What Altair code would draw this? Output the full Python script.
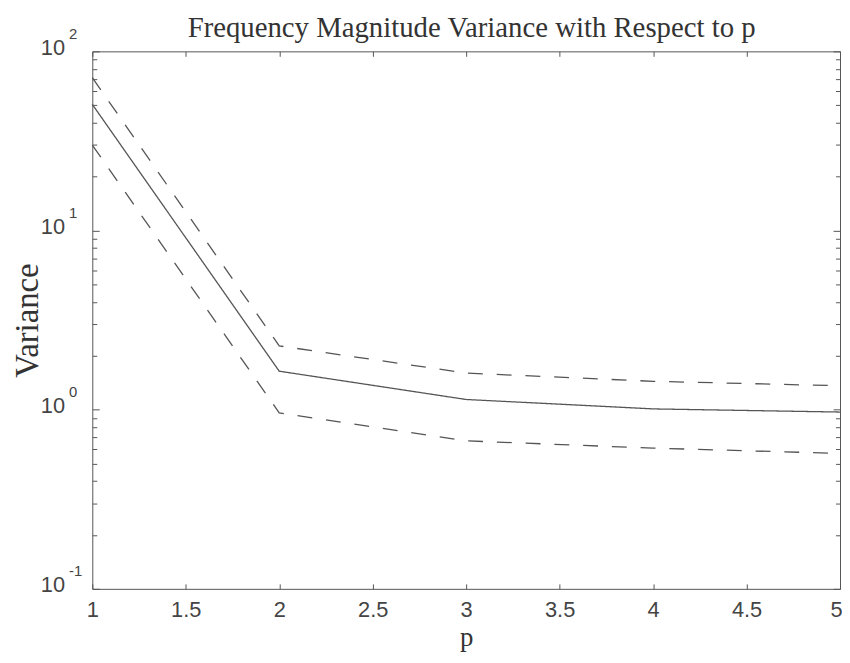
import altair as alt
import pandas as pd

# ---- data ----
p_values = [1, 2, 3, 4, 5]
mean_var = [50.6, 1.64, 1.14, 1.01, 0.97]
upper_var = [71.3, 2.27, 1.60, 1.44, 1.36]
lower_var = [30.0, 0.96, 0.67, 0.61, 0.57]

x_tick_values = [1, 1.5, 2, 2.5, 3, 3.5, 4, 4.5, 5]
y_label_values = [0.1, 1, 10, 100]
y_tick_values = [0.1, 0.2, 0.3, 0.4, 0.5, 0.6, 0.7, 0.8, 0.9,
                 1, 2, 3, 4, 5, 6, 7, 8, 9,
                 10, 20, 30, 40, 50, 60, 70, 80, 90, 100]
series_names = ["mean", "upper", "lower"]
chart_title = "Frequency Magnitude Variance with Respect to p"

rows = []
for name, vals in zip(series_names, [mean_var, upper_var, lower_var]):
    for p, v in zip(p_values, vals):
        rows.append({"p": p, "variance": v, "series": name})
df = pd.DataFrame(rows)

W, H = 754, 542
INK = "#555555"

x_scale = alt.Scale(domain=[1, 5], nice=False, zero=False)
y_scale = alt.Scale(type="log", domain=[0.1, 100], nice=False)

major_test = "abs(log(datum.value)/LN10 - round(log(datum.value)/LN10)) < 0.000001"
y_tick_size = {"condition": {"test": major_test, "value": 7}, "value": 4.5}
x_label_offset = {"condition": {"test": "datum.value == 5", "value": -4}, "value": 0}

exp_expr = ("datum.value >= 50 ? '2' : datum.value >= 5 ? '1' : "
            "datum.value >= 0.5 ? '0' : '-1'")

base = alt.Chart(df)

lines = base.mark_line(color=INK, strokeWidth=1.3).encode(
    x=alt.X("p:Q", scale=x_scale,
            axis=alt.Axis(orient="bottom", values=x_tick_values, format="~g",
                          ticks=False, tickSize=0, domain=False, grid=False,
                          labelPadding=11, labelFlush=False,
                          labelOffset=x_label_offset, title="p",
                          titleFont="Liberation Serif", titleFontSize=27,
                          titleFontWeight="normal", titleColor="#333333",
                          titleY=57, titleBaseline="alphabetic")),
    y=alt.Y("variance:Q", scale=y_scale,
            axis=alt.Axis(orient="left", values=y_label_values, labelExpr="'10'",
                          ticks=False, tickSize=0, domain=False, grid=False,
                          labelAlign="right", labelPadding=28, labelOffset=-4,
                          labelBaseline="middle",
                          title="Variance",
                          titleFont="Liberation Serif", titleFontSize=33,
                          titleFontWeight="normal", titleColor="#333333",
                          titleX=-55, titleBaseline="alphabetic")),
    detail="series:N",
    strokeDash=alt.StrokeDash("series:N",
                              scale=alt.Scale(domain=series_names,
                                              range=[[1, 0], [15, 14], [15, 14]]),
                              legend=None),
)

# inward ticks: bottom & left edges
ticks_a = base.mark_line(opacity=0).encode(
    x=alt.X("p:Q", scale=x_scale,
            axis=alt.Axis(orient="top", offset=-H, values=x_tick_values,
                          labels=False, domain=False, grid=False, tickSize=5,
                          title=None)),
    y=alt.Y("variance:Q", scale=y_scale,
            axis=alt.Axis(orient="right", offset=-W, values=y_tick_values,
                          labels=False, domain=False, grid=False,
                          tickSize=y_tick_size, title=None)),
    detail="series:N",
)

# inward ticks: top & right edges
ticks_b = base.mark_line(opacity=0).encode(
    x=alt.X("p:Q", scale=x_scale,
            axis=alt.Axis(orient="bottom", offset=-H, values=x_tick_values,
                          labels=False, domain=False, grid=False, tickSize=5,
                          title=None)),
    y=alt.Y("variance:Q", scale=y_scale,
            axis=alt.Axis(orient="left", offset=-W, values=y_tick_values,
                          labels=False, domain=False, grid=False,
                          tickSize=y_tick_size, title=None)),
    detail="series:N",
)

# exponents of the decade labels + the chart title on a bare top axis
exponents = base.mark_line(opacity=0).encode(
    x=alt.X("p:Q", scale=x_scale,
            axis=alt.Axis(orient="top", ticks=False, labels=False, domain=False,
                          grid=False, title=chart_title,
                          titleFont="Liberation Serif", titleFontSize=29,
                          titleFontWeight="normal", titleColor="#333333",
                          titleX=W / 2 + 5, titleY=-15, titleAlign="center",
                          titleBaseline="alphabetic")),
    y=alt.Y("variance:Q", scale=y_scale,
            axis=alt.Axis(orient="left", values=y_label_values, labelExpr=exp_expr,
                          ticks=False, tickSize=0, domain=False, grid=False,
                          labelAlign="left", labelPadding=24, labelOffset=-18,
                          labelBaseline="middle", labelFontSize=15,
                          title=None)),
    detail="series:N",
)

chart = (
    alt.layer(lines, ticks_a, ticks_b, exponents)
    .resolve_axis(x="independent", y="independent")
    .properties(
        width=W,
        height=H,
        autosize=alt.AutoSizeParams(type="none"),
        padding={"left": 85, "top": 41, "right": 2, "bottom": 64},
    )
    .configure_view(stroke=INK, strokeWidth=1)
    .configure_axis(labelFont="Liberation Sans", labelFontSize=22,
                    labelColor="#444444", tickColor=INK, tickWidth=1)
)

chart.save("out.html", embed_options={"renderer": "svg", "actions": False})
